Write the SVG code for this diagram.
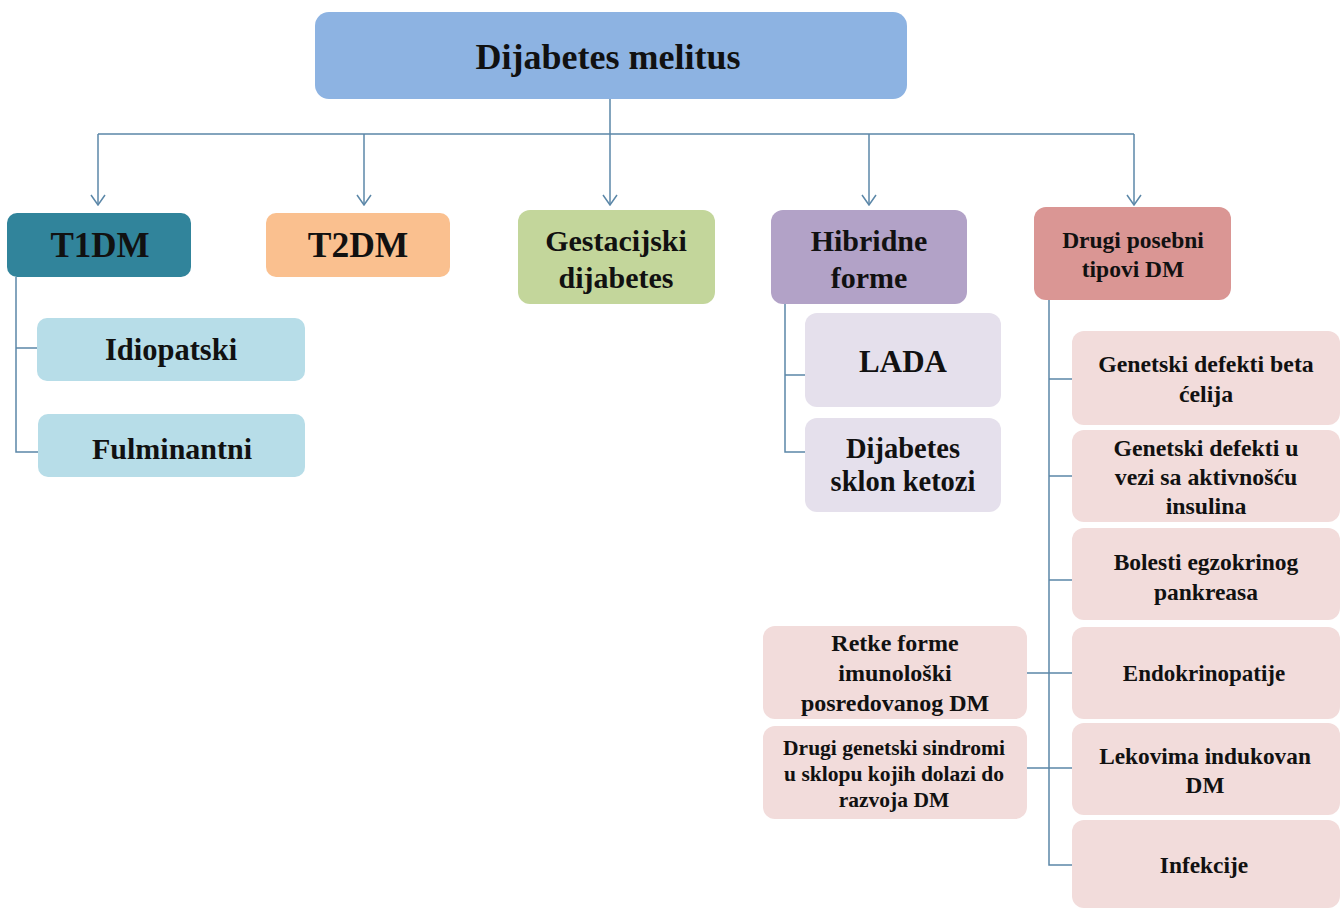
<svg xmlns="http://www.w3.org/2000/svg" width="1344" height="908" viewBox="0 0 1344 908">
  <style>
    .t { font-family: "Liberation Serif", Tinos, "DejaVu Serif", "Noto Serif", serif; font-weight: bold; fill: #111; text-anchor: middle; }
    .ln { stroke: #5B87A8; stroke-width: 1.5; fill: none; }
    .arr { stroke: #5B87A8; stroke-width: 1.5; fill: none; marker-end: url(#vhead); }
  </style>
  <defs>
    <!-- open V arrowhead, drawn along +x so orient="auto" points it down the line -->
    <marker id="vhead" viewBox="0 0 12 16" refX="11" refY="8" markerWidth="12" markerHeight="16" markerUnits="userSpaceOnUse" orient="auto">
      <path d="M1 1 L11 8 L1 15" fill="none" stroke="#5B87A8" stroke-width="1.5"/>
    </marker>
  </defs>
  <rect width="1344" height="908" fill="#ffffff"/>

  <!-- connectors -->
  <g id="connectors">
    <path class="ln" d="M610 99 V134 M98 134 H1134"/>
    <path class="arr" d="M98 134 V205"/>
    <path class="arr" d="M364 134 V205"/>
    <path class="arr" d="M610 134 V205"/>
    <path class="arr" d="M869 134 V205"/>
    <path class="arr" d="M1134 134 V205"/>
    <!-- T1DM branch -->
    <path class="ln" d="M16 277 V452 H38 M16 348 H37"/>
    <!-- hybrid forms branch -->
    <path class="ln" d="M785 304 V452 H805 M785 375 H805"/>
    <!-- other specific types branch -->
    <path class="ln" d="M1049 300 V865 H1072 M1049 379 H1072 M1049 476 H1072 M1049 580 H1072 M1027 673 H1072 M1027 768 H1072"/>
  </g>

  <g id="root">
    <rect x="315" y="12" width="592" height="87" rx="14" fill="#8DB3E2"/>
    <text class="t" x="608" y="69" font-size="36">Dijabetes melitus</text>
  </g>

  <g id="t1dm">
    <rect x="7" y="213" width="184" height="64" rx="10" fill="#31849B"/>
    <text class="t" x="100" y="257" font-size="35">T1DM</text>
  </g>
  <g id="t2dm">
    <rect x="266" y="213" width="184" height="64" rx="10" fill="#FAC08F"/>
    <text class="t" x="358" y="257" font-size="35.5">T2DM</text>
  </g>
  <g id="gestacijski">
    <rect x="518" y="210" width="197" height="94" rx="12" fill="#C3D69B"/>
    <text class="t" x="616" y="251" font-size="30">Gestacijski</text>
    <text class="t" x="616" y="288" font-size="30">dijabetes</text>
  </g>
  <g id="hibridne">
    <rect x="771" y="210" width="196" height="94" rx="12" fill="#B2A2C7"/>
    <text class="t" x="869" y="251" font-size="30">Hibridne</text>
    <text class="t" x="869" y="288" font-size="30">forme</text>
  </g>
  <g id="drugi-posebni">
    <rect x="1034" y="207" width="197" height="93" rx="12" fill="#DA9694"/>
    <text class="t" x="1133" y="248" font-size="23.5">Drugi posebni</text>
    <text class="t" x="1133" y="277" font-size="23.5">tipovi DM</text>
  </g>

  <g id="idiopatski">
    <rect x="37" y="318" width="268" height="63" rx="10" fill="#B7DDE8"/>
    <text class="t" x="171" y="360" font-size="30.5">Idiopatski</text>
  </g>
  <g id="fulminantni">
    <rect x="38" y="414" width="267" height="63" rx="10" fill="#B7DDE8"/>
    <text class="t" x="172" y="459" font-size="30">Fulminantni</text>
  </g>

  <g id="lada">
    <rect x="805" y="313" width="196" height="94" rx="12" fill="#E5E0EC"/>
    <text class="t" x="903" y="372" font-size="31">LADA</text>
  </g>
  <g id="sklon-ketozi">
    <rect x="805" y="418" width="196" height="94" rx="12" fill="#E5E0EC"/>
    <text class="t" x="903" y="458" font-size="28.5">Dijabetes</text>
    <text class="t" x="903" y="491" font-size="28.5">sklon ketozi</text>
  </g>

  <g id="beta-celije">
    <rect x="1072" y="331" width="268" height="94" rx="12" fill="#F2DCDB"/>
    <text class="t" x="1206" y="372" font-size="23.8">Genetski defekti beta</text>
    <text class="t" x="1206" y="402" font-size="23.8">ćelija</text>
  </g>
  <g id="aktivnost-insulina">
    <rect x="1072" y="430" width="268" height="92" rx="12" fill="#F2DCDB"/>
    <text class="t" x="1206" y="456" font-size="23.8">Genetski defekti u</text>
    <text class="t" x="1206" y="485" font-size="23.8">vezi sa aktivnošću</text>
    <text class="t" x="1206" y="514" font-size="23.8">insulina</text>
  </g>
  <g id="egzokrini-pankreas">
    <rect x="1072" y="528" width="268" height="92" rx="12" fill="#F2DCDB"/>
    <text class="t" x="1206" y="570" font-size="23.5">Bolesti egzokrinog</text>
    <text class="t" x="1206" y="600" font-size="23.5">pankreasa</text>
  </g>
  <g id="endokrinopatije">
    <rect x="1072" y="627" width="268" height="92" rx="12" fill="#F2DCDB"/>
    <text class="t" x="1204" y="681" font-size="23">Endokrinopatije</text>
  </g>
  <g id="lekovi">
    <rect x="1072" y="723" width="268" height="92" rx="12" fill="#F2DCDB"/>
    <text class="t" x="1205" y="764" font-size="23.3">Lekovima indukovan</text>
    <text class="t" x="1205" y="793" font-size="23.3">DM</text>
  </g>
  <g id="infekcije">
    <rect x="1072" y="820" width="268" height="88" rx="12" fill="#F2DCDB"/>
    <text class="t" x="1204" y="873" font-size="23.4">Infekcije</text>
  </g>

  <g id="retke-forme">
    <rect x="763" y="626" width="264" height="93" rx="12" fill="#F2DCDB"/>
    <text class="t" x="895" y="651" font-size="24">Retke forme</text>
    <text class="t" x="895" y="681" font-size="24">imunološki</text>
    <text class="t" x="895" y="711" font-size="24">posredovanog  DM</text>
  </g>
  <g id="genetski-sindromi">
    <rect x="763" y="726" width="264" height="93" rx="12" fill="#F2DCDB"/>
    <text class="t" x="894" y="755" font-size="21.5">Drugi genetski sindromi</text>
    <text class="t" x="894" y="781" font-size="21.5">u sklopu kojih dolazi do</text>
    <text class="t" x="894" y="807" font-size="21.5">razvoja DM</text>
  </g>
</svg>
